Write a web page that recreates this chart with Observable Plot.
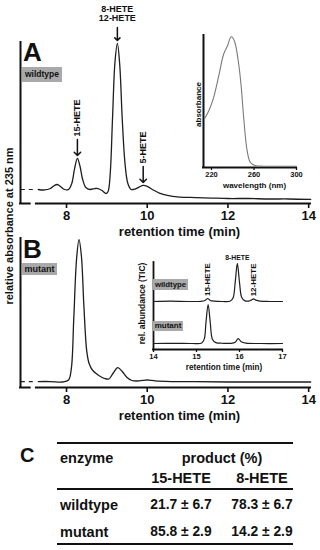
<!DOCTYPE html>
<html>
<head>
<meta charset="utf-8">
<script src="https://cdn.jsdelivr.net/npm/d3@7"></script>
<script src="https://cdn.jsdelivr.net/npm/@observablehq/plot@0.6"></script>
<style>
  html, body { margin: 0; padding: 0; background: #fff; }
  #fig { position: relative; width: 320px; height: 550px; overflow: hidden; background: #fff;
         font-family: "Liberation Sans", Arial, Helvetica, sans-serif; font-weight: bold; color: #111; }
  #fig div { position: absolute; white-space: nowrap; }
</style>
</head>
<body>
<div id="fig"></div>
<script>
// ---------- DATA ----------
// Panel A: wildtype HPLC trace (retention time in min, relative absorbance at 235 nm)
const timeA = [7.30, 7.45, 7.60, 7.70, 7.77, 7.85, 7.95, 8.05, 8.13, 8.20, 8.27, 8.33, 8.40, 8.48, 8.58, 8.70, 8.78, 8.88, 8.98, 9.03, 9.08, 9.14, 9.20, 9.26, 9.32, 9.38, 9.45, 9.52, 9.60, 9.70, 9.80, 9.90, 10.00, 10.15, 10.30, 10.50, 10.80, 11.20, 11.60, 12.00, 12.50, 13.00, 13.50, 14.05];
const absA  = [8.7, 8.4, 9.3, 11.2, 11.8, 10.6, 8.7, 8.7, 12.4, 21.7, 28.0, 23.6, 14.9, 9.9, 8.7, 9.3, 9.3, 8.1, 6.2, 7.5, 17.4, 52.8, 87.6, 99.4, 85.7, 52.8, 24.8, 12.4, 8.7, 9.0, 10.2, 11.2, 10.6, 8.4, 6.5, 5.0, 4.0, 3.7, 3.4, 3.1, 3.1, 2.8, 2.8, 2.5];
// Panel B: mutant HPLC trace
const timeB = [7.30, 7.60, 7.90, 8.05, 8.12, 8.18, 8.25, 8.31, 8.37, 8.43, 8.50, 8.56, 8.65, 8.80, 8.95, 9.05, 9.15, 9.27, 9.38, 9.50, 9.62, 9.80, 9.95, 10.05, 10.20, 10.60, 11.20, 12.00, 13.00, 14.05];
const absB  = [4.0, 4.0, 3.7, 5.0, 12.8, 46.3, 86.6, 99.3, 87.9, 55.0, 24.8, 16.1, 11.4, 8.1, 6.0, 5.7, 9.4, 13.4, 10.7, 6.7, 4.7, 4.4, 5.0, 5.0, 4.4, 4.0, 4.0, 3.7, 3.7, 3.7];
// Inset A: UV spectrum
const wavelengthUV = [213.5, 217.5, 222, 227, 231.5, 235, 238.5, 241.5, 245.5, 248, 250.5, 253.5, 256.5, 261, 269, 300];
const absorbanceUV = [0.37, 0.43, 0.53, 0.70, 0.86, 0.92, 0.99, 0.96, 0.79, 0.61, 0.36, 0.13, 0.04, 0.015, 0.01, 0.01];
// Inset B: LC-MS total ion current traces
const timeMSwt  = [14.00, 14.40, 14.80, 15.10, 15.20, 15.26, 15.32, 15.42, 15.60, 15.78, 15.85, 15.90, 15.95, 16.00, 16.05, 16.12, 16.22, 16.28, 16.33, 16.38, 16.48, 16.70, 17.00];
const ticWild   = [0, 0.3, 0, 0.2, 1.2, 3.4, 1.2, 0.3, 0, 0.3, 4, 22, 43.7, 22, 5, 1, 0.5, 1.8, 3.0, 1.5, 0.4, 0, 0];
const timeMSmut = [14.00, 14.50, 14.90, 15.12, 15.18, 15.22, 15.27, 15.32, 15.37, 15.45, 15.60, 15.80, 15.90, 15.97, 16.04, 16.15, 16.50, 17.00];
const ticMutant = [0, 0.2, 0, 0.5, 5, 24, 44.8, 24, 5, 1, 0.3, 0.2, 1.5, 5.7, 2, 0.4, 0, 0];
const ticOffsetWild = 55.2, ticOffsetMutant = 6.9;
// Peak annotations
const peakLabelsA = ["15-HETE", "5-HETE"];
const peakTimesA  = [8.27, 9.90];
const peakValsA   = [28.0, 11.2];
const mainPeakLabel = "8-HETE\n12-HETE", mainPeakTime = 9.26, mainPeakVal = 99.4;
const msPeakLabels = ["15-HETE", "12-HETE"];
const msPeakTimes  = [15.26, 16.33];
const msPeakVals   = [3.4, 3.0];
const ms8Label = "8-HETE", ms8Time = 15.95, ms8Val = 43.7;
// Axis ticks
const ticksRT = [8, 10, 12, 14];
const ticksWL = [220, 260, 300];
const ticksMS = [14, 15, 16, 17];
// Table C
const enzymes  = ["wildtype", "mutant"];
const products = ["15-HETE", "8-HETE"];
const meanPct  = [[21.7, 78.3], [85.8, 14.2]];
const sdPct    = [[6.7, 6.7], [2.9, 2.9]];

// ---------- DRAW ----------
const INK = "#111";
const fig = document.getElementById("fig");
const FONT = '"Liberation Sans", Arial, Helvetica, sans-serif';
const baseStyle = {background: "transparent", overflow: "visible", fontFamily: FONT, fontWeight: "bold", color: INK};
function place(svg, top) {
  svg.style.position = "absolute"; svg.style.left = "0px"; svg.style.top = top + "px";
  fig.appendChild(svg);
}
const zip = (xs, ys) => xs.map((x, i) => ({x, y: ys[i]}));

function chromPanel(trace, peakAnn, opts) {
  const {height, mt, mb, x0, xa} = opts;
  const marks = [
    Plot.ruleX([x0], {stroke: INK, strokeWidth: 2, strokeLinecap: "square"}),
    Plot.ruleY([{y: 0, x1: x0, x2: 7.10}], {y: "y", x1: "x1", x2: "x2", stroke: INK, strokeWidth: 2, strokeLinecap: "square"}),
    Plot.ruleY([{y: 0, x1: xa, x2: 14.07}], {y: "y", x1: "x1", x2: "x2", stroke: INK, strokeWidth: 2}),
    Plot.ruleY([{y: trace[0].y, x1: x0 + 0.02, x2: xa}], {y: "y", x1: "x1", x2: "x2", stroke: "#222", strokeWidth: 1.2, strokeDasharray: "4,4"}),
    Plot.axisX({ticks: ticksRT, tickSize: 5, tickPadding: 2, fontSize: 13, strokeWidth: 1.6, stroke: INK, fill: INK, label: null}),
    Plot.text(["retention time (min)"], {frameAnchor: "bottom", dy: 28, dx: 13.5, fontSize: 13, lineAnchor: "middle", fill: INK}),
    Plot.line(trace, {x: "x", y: "y", curve: "catmull-rom", stroke: "#1e1e1e", strokeWidth: 1.3})
  ];
  return Plot.plot({
    width: 320, height, marginLeft: 20, marginRight: 9, marginTop: mt, marginBottom: mb,
    x: {domain: [x0, 14.07], axis: null}, y: {domain: [0, 100], axis: null},
    style: baseStyle,
    marks: marks.concat(peakAnn)
  });
}

// Panel A
const peaksA = peakLabelsA.map((label, i) => ({label, x: peakTimesA[i], y: peakValsA[i]}));
const annA = [
  Plot.vector(peaksA, {x: "x", y: "y", length: 16, rotate: 180, anchor: "end", dy: -3, stroke: INK, strokeWidth: 1.5}),
  Plot.text(peaksA, {x: "x", y: "y", text: "label", rotate: -90, textAnchor: "start", dy: -22, fontSize: 9, fill: INK}),
  Plot.vector([{x: mainPeakTime, y: mainPeakVal}], {x: "x", y: "y", length: 13, rotate: 180, anchor: "end", dy: -3, stroke: INK, strokeWidth: 1.5}),
  Plot.text([{x: mainPeakTime, y: mainPeakVal, label: mainPeakLabel}], {x: "x", y: "y", text: "label", lineAnchor: "bottom", dy: -22, fontSize: 9, lineHeight: 1.0, fill: INK})
];
place(chromPanel(zip(timeA, absA), annA, {height: 240, mt: 42, mb: 37, x0: 6.86, xa: 7.23}), 0);

// Panel B
place(chromPanel(zip(timeB, absB), [], {height: 200, mt: 8, mb: 43, x0: 6.86, xa: 7.23}), 230);

// Inset A: UV spectrum
place(Plot.plot({
  width: 320, height: 200, marginLeft: 203, marginRight: 24, marginTop: 35, marginBottom: 33,
  x: {domain: [212.5, 300], axis: null}, y: {domain: [0, 1], axis: null},
  style: baseStyle,
  marks: [
    Plot.ruleX([212.5], {stroke: INK, strokeWidth: 2, strokeLinecap: "square"}),
    Plot.ruleY([0], {stroke: INK, strokeWidth: 2, strokeLinecap: "square"}),
    Plot.axisX({ticks: ticksWL, tickSize: 3, tickPadding: 1.5, fontSize: 7.5, strokeWidth: 1.3, stroke: INK, fill: INK, tickFormat: "d", label: null}),
    Plot.text(["wavelength (nm)"], {frameAnchor: "bottom", dy: 18, dx: 4.5, fontSize: 8, lineAnchor: "middle", fill: INK}),
    Plot.text(["absorbance"], {frameAnchor: "left", dx: -5, dy: 3, rotate: -90, fontSize: 8, textAnchor: "middle", lineAnchor: "middle", fill: INK}),
    Plot.line(zip(wavelengthUV, absorbanceUV), {x: "x", y: "y", curve: "catmull-rom", stroke: "#7a7a7a", strokeWidth: 1.1})
  ]
}), 0);

// Inset B: LC-MS
const wt = zip(timeMSwt, ticWild.map(v => v + ticOffsetWild));
const mu = zip(timeMSmut, ticMutant.map(v => v + ticOffsetMutant));
const msPeaks = msPeakLabels.map((label, i) => ({label, x: msPeakTimes[i], y: msPeakVals[i] + ticOffsetWild}));
place(Plot.plot({
  width: 320, height: 130, marginLeft: 153, marginRight: 38, marginTop: 12, marginBottom: 31,
  x: {domain: [14, 17], axis: null}, y: {domain: [0, 100], axis: null},
  style: baseStyle,
  marks: [
    Plot.ruleX([14], {stroke: INK, strokeWidth: 1.8, strokeLinecap: "square"}),
    Plot.ruleY([0], {stroke: INK, strokeWidth: 1.8, strokeLinecap: "square"}),
    Plot.axisX({ticks: ticksMS, tickSize: 3, tickPadding: 1.5, fontSize: 7.5, strokeWidth: 1.3, stroke: INK, fill: INK, tickFormat: "d", label: null}),
    Plot.text(["retention time (min)"], {frameAnchor: "bottom", dy: 18, dx: 6, fontSize: 8.2, lineAnchor: "middle", fill: INK}),
    Plot.text(["rel. abundance (TIC)"], {frameAnchor: "left", dx: -11, dy: -2.5, rotate: -90, fontSize: 8.5, textAnchor: "middle", lineAnchor: "middle", fill: INK}),
    Plot.line(wt, {x: "x", y: "y", curve: "catmull-rom", stroke: "#1e1e1e", strokeWidth: 1.2}),
    Plot.line(mu, {x: "x", y: "y", curve: "catmull-rom", stroke: "#1e1e1e", strokeWidth: 1.2}),
    Plot.text(msPeaks, {x: "x", y: "y", text: "label", rotate: -90, textAnchor: "start", dy: -2.5, fontSize: 8, fill: INK}),
    Plot.text([{x: ms8Time, y: ms8Val + ticOffsetWild, label: ms8Label}], {x: "x", y: "y", text: "label", lineAnchor: "bottom", dy: -3, fontSize: 6.8, fill: INK})
  ]
}), 250);

// ---------- HTML annotations ----------
function txt(s, x, base, fs, align) {
  const d = document.createElement("div");
  d.textContent = s;
  Object.assign(d.style, {left: x + "px", top: (base - 0.8465 * fs) + "px", fontSize: fs + "px", lineHeight: fs + "px"});
  if (align === "center") d.style.transform = "translateX(-50%)";
  fig.appendChild(d);
  return d;
}
function tag(s, x, y, w, h, fs) {
  const d = document.createElement("div");
  d.textContent = s;
  Object.assign(d.style, {left: x + "px", top: y + "px", width: w + "px", height: h + "px", background: "#a9a9a9",
    fontSize: fs + "px", lineHeight: h + "px", textAlign: "center"});
  fig.appendChild(d);
}
function hline(x1, x2, y, w) {
  const d = document.createElement("div");
  Object.assign(d.style, {left: x1 + "px", top: (y - w / 2) + "px", width: (x2 - x1) + "px", height: w + "px", background: INK});
  fig.appendChild(d);
}

txt("A", 23, 61, 26);
txt("B", 23, 258, 26);
txt("C", 20, 462, 20);
tag("wildtype", 22, 67, 40, 15, 8.5);
tag("mutant", 22, 263, 35, 12, 9);
tag(enzymes[0], 153, 279, 35, 11, 7.8);
tag(enzymes[1], 153, 321, 30, 10, 8);

const yt = document.createElement("div");
yt.textContent = "relative absorbance at 235 nm";
Object.assign(yt.style, {left: "9px", top: "226px", fontSize: "11px", lineHeight: "11px", transform: "translate(-50%,-50%) rotate(-90deg)"});
fig.appendChild(yt);

// Table C
const colX = [181, 262];
hline(57, 293, 443, 2);
txt("enzyme", 60, 463, 14.5);
txt("product (%)", 222, 463, 14.5, "center");
products.forEach((p, j) => txt(p, colX[j], 483, 14.5, "center"));
hline(57, 293, 489, 2);
const rowBase = [510, 537];
enzymes.forEach((e, i) => {
  txt(e, 60, rowBase[i], 14.5);
  products.forEach((p, j) => txt(`${meanPct[i][j].toFixed(1)} ± ${sdPct[i][j].toFixed(1)}`, colX[j], rowBase[i], 13.8, "center"));
});
hline(57, 293, 544, 2);
</script>
</body>
</html>
